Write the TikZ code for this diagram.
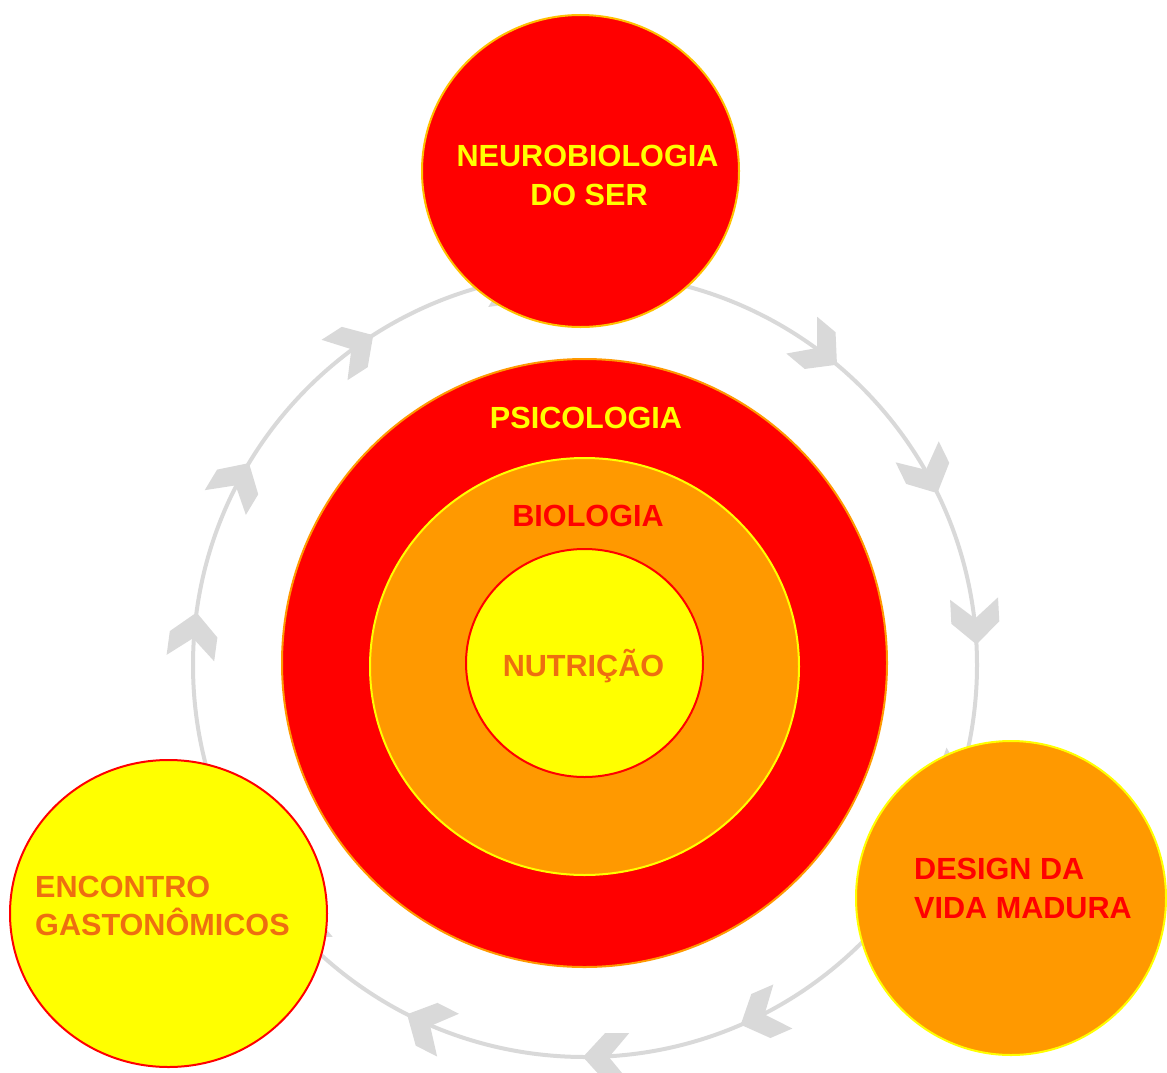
\documentclass[tikz,border=0pt]{standalone}
\usepackage{fontspec}
\setmainfont{Liberation Sans}
\usetikzlibrary{shapes.geometric}

\definecolor{cred}{HTML}{FF0000}
\definecolor{corange}{HTML}{FF9900}
\definecolor{cyellow}{HTML}{FFFF00}
\definecolor{camber}{HTML}{FFC000}
\definecolor{ctext}{HTML}{EE6E10}
\definecolor{ringgray}{HTML}{D9D9D9}

\tikzset{
  disc/.style={ellipse, inner sep=0pt, line width=2pt},
  lbl/.style={inner sep=0pt, anchor=base, font=\fontsize{30.6}{36}\selectfont\bfseries},
  lblw/.style={lbl, anchor=base west},
  ring/.style={draw=ringgray, line width=4pt},
  chevron/.style={fill=ringgray},
}

\begin{document}
\begin{tikzpicture}[x=1pt, y=-1pt]
  \useasboundingbox (0,0) rectangle (1167,1073);

  % cycle ring with chevrons pointing clockwise
  \coordinate (ringc) at (585,665);
  \draw[ring] (ringc) circle[radius=392];
  \foreach \a in {50,26,3,-20,-66.6,-90.3,-117,-140,172.3,149,122.7,98}{
    \fill[chevron, shift={({585+392*cos(\a)},{665-392*sin(\a)})}, rotate=\a-90]
      (0,0) -- (-22,24) -- (-46,24) -- (-26,0) -- (-46,-24) -- (-22,-24) -- cycle;
  }

  % central nested circles
  \node[disc, fill=cred, draw=corange, minimum width=605pt, minimum height=608pt] (psi) at (584.5,663) {};
  \node[disc, fill=corange, draw=cyellow, minimum width=429pt, minimum height=417pt] (bio) at (584.5,666.5) {};
  \node[disc, fill=cyellow, draw=cred, minimum width=237pt, minimum height=228pt] (nut) at (584.5,663) {};

  % outer circles
  \node[disc, fill=cred, draw=camber, minimum width=317pt, minimum height=312pt] (neuro) at (580.5,171) {};
  \node[disc, fill=corange, draw=cyellow, minimum width=310pt, minimum height=314pt] (design) at (1011,898) {};
  \node[disc, fill=cyellow, draw=cred, minimum width=317pt, minimum height=307pt] (encontro) at (168.5,913.5) {};

  % labels
  \node[lbl, text=cyellow] (neuroa) at (587.5,166) {NEUROBIOLOGIA};
  \node[lbl, text=cyellow] (neurob) at (589,205) {DO SER};
  \node[lbl, text=cyellow] (psil) at (586,428) {PSICOLOGIA};
  \node[lbl, text=cred] (biol) at (588,526) {BIOLOGIA};
  \node[lbl, text=ctext] (nutl) at (583.5,676) {NUTRIÇÃO};
  \node[lblw, text=ctext] (enca) at (35,897) {ENCONTRO};
  \node[lblw, text=ctext] (encb) at (35,935) {GASTONÔMICOS};
  \node[lblw, text=cred] (desa) at (914,879) {DESIGN DA};
  \node[lblw, text=cred] (desb) at (914,918) {VIDA MADURA};
\end{tikzpicture}
\end{document}
